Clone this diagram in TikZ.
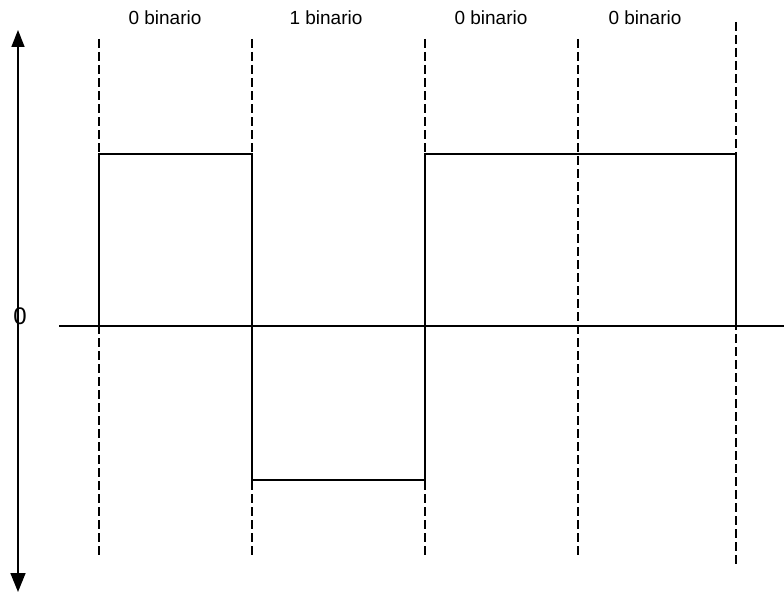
\documentclass[tikz,border=0pt]{standalone}
\usepackage{fontspec}
\setmainfont{Liberation Sans}
\usetikzlibrary{arrows.meta}
\begin{document}
\begin{tikzpicture}[x=1pt,y=-1pt,
  grid/.style={line width=1.3pt, dash pattern=on 9pt off 4pt},
  sig/.style={line width=2.4pt, line join=miter},
  axis/.style={line width=1.6pt},
  lab/.style={font=\fontsize{19}{21}\selectfont, inner sep=0pt}]
\useasboundingbox (0,0) rectangle (784,594);
% coordinates
\coordinate (ytop) at (18,30);
\coordinate (ybot) at (18,592);
\coordinate (xl) at (59,326);
\coordinate (xr) at (784,326);
\foreach \n/\x in {a/99,b/252,c/425,d/578}{
  \coordinate (\n t) at (\x,39);
  \coordinate (\n b) at (\x,557);
}
\coordinate (et) at (736,22);
\coordinate (eb) at (736,565);
% grid
\foreach \n in {a,b,c,d,e}{ \draw[grid] (\n t) -- (\n b); }
% axes
\draw[axis,{Triangle[width=13pt,length=17pt]}-{Triangle[width=15pt,length=19pt]}] (ytop) -- (ybot);
\draw[axis] (xl) -- (xr);
\node[inner sep=0pt, font=\fontsize{24}{26}\selectfont] (zero) at (20,316) {0};
% signal
\coordinate (s0) at (99,326);
\coordinate (s1) at (99,154);
\coordinate (s2) at (252,154);
\coordinate (s3) at (252,480);
\coordinate (s4) at (425,480);
\coordinate (s5) at (425,154);
\coordinate (s6) at (736,154);
\coordinate (s7) at (736,326);
\draw[sig] (s0) -- (s1) -- (s2) -- (s3) -- (s4) -- (s5) -- (s6) -- (s7);
% labels
\node[lab] (l1) at (165,18) {0 binario};
\node[lab] (l2) at (326,18) {1 binario};
\node[lab] (l3) at (491,18) {0 binario};
\node[lab] (l4) at (645,18) {0 binario};
\end{tikzpicture}
\end{document}
